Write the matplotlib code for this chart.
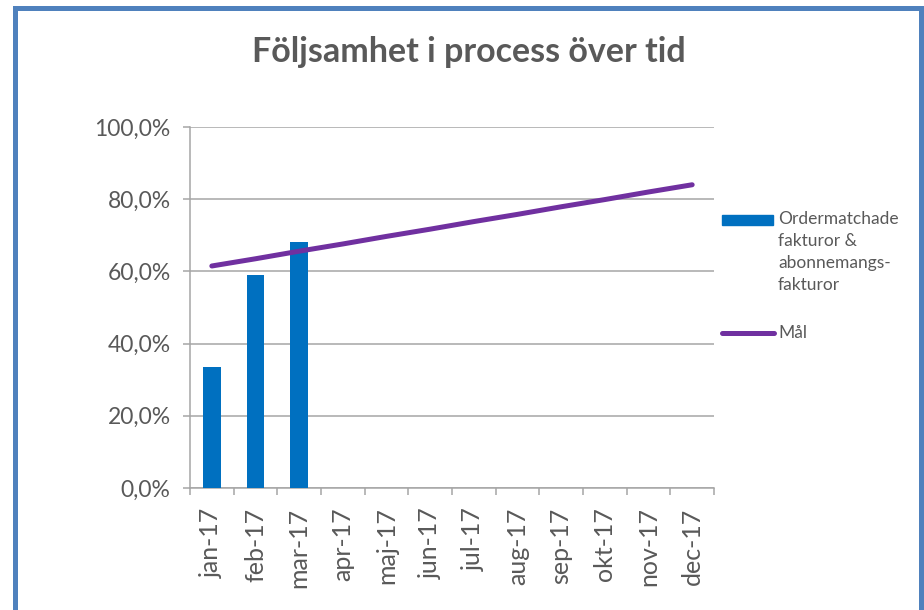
import matplotlib
matplotlib.use("Agg")
import matplotlib.pyplot as plt
from matplotlib.patches import Rectangle
from matplotlib.lines import Line2D
import numpy as np

# data
months = ["jan-17", "feb-17", "mar-17", "apr-17", "maj-17", "jun-17",
          "jul-17", "aug-17", "sep-17", "okt-17", "nov-17", "dec-17"]
actual = [33.4, 59.0, 68.1]  # Ordermatchade fakturor & abonnemangsfakturor (%)
goal = [61.5, 63.5, 65.6, 67.6, 69.7, 71.7, 73.8, 75.8, 77.9, 79.9, 82.0, 84.0]
y_ticks = [0, 20, 40, 60, 80, 100]
y_ticklabels = ["0,0%", "20,0%", "40,0%", "60,0%", "80,0%", "100,0%"]
bar_label = "Ordermatchade\nfakturor &\nabonnemangs-\nfakturor"
line_label = "Mål"

TEXT = "#595959"
GRID = "#A6A6A6"
BAR = "#0070C0"
LINE = "#7030A0"
FRAME = "#4F81BD"
W, H = 924, 610

plt.rcParams["font.family"] = ["Lato", "DejaVu Sans"]

fig = plt.figure(figsize=(W / 100, H / 100), dpi=100)
ax = fig.add_axes([190 / W, 1 - 488 / H, 524 / W, 361 / H])

x = np.arange(len(months))
ax.bar(x[:len(actual)], actual, width=0.41, color=BAR, zorder=3)
ax.plot(x, goal, color=LINE, lw=3.6, solid_capstyle="round", zorder=4)

ax.set_xlim(-0.5, len(months) - 0.5)
ax.set_ylim(0, 100)
ax.set_yticks(y_ticks)
ax.set_yticklabels(y_ticklabels)
ax.yaxis.grid(True, color=GRID, lw=1.1, zorder=0)
ax.set_axisbelow(True)

ax.set_xticks(x)
ax.set_xticklabels(months, rotation=90, va="top", ha="center")
ax.set_xticks(np.arange(-0.5, len(months)), minor=True)
ax.tick_params(axis="x", which="major", length=0, pad=14, labelsize=18, labelcolor=TEXT)
ax.tick_params(axis="x", which="minor", length=5, width=1.1, color=GRID, direction="out")
ax.tick_params(axis="y", length=5, width=1.1, color=GRID, pad=9, labelsize=16.5, labelcolor=TEXT)

for side in ["top", "right"]:
    ax.spines[side].set_visible(False)
for side in ["left", "bottom"]:
    ax.spines[side].set_color(GRID)
    ax.spines[side].set_linewidth(1.1)

fig.text(0.507, 0.915, "Följsamhet i process över tid", ha="center", va="center",
         fontsize=24.5, fontweight="bold", color=TEXT)

# legend drawn by hand so the bar key sits beside the first text line
def fx(px):
    return px / W

def fy(py):
    return 1 - py / H

fig.add_artist(Rectangle((fx(722), fy(225)), fx(773) - fx(722), fy(215) - fy(225),
                         transform=fig.transFigure, color=BAR))
fig.text(fx(778), fy(211), bar_label, ha="left", va="top", fontsize=12.5,
         color=TEXT, linespacing=1.45)
fig.add_artist(Line2D([fx(722), fx(774)], [fy(333), fy(333)], transform=fig.transFigure,
                      color=LINE, lw=3.6, solid_capstyle="round"))
fig.text(fx(778), fy(333), line_label, ha="left", va="center", fontsize=12.5, color=TEXT)

# blue outer frame of the chart
fig.patches.append(Rectangle((15 / W, -0.05), 906 / W, 1 - 8 / H + 0.05,
                             transform=fig.transFigure, fill=False,
                             edgecolor=FRAME, lw=3.6))

fig.savefig("out.png", dpi=100)
